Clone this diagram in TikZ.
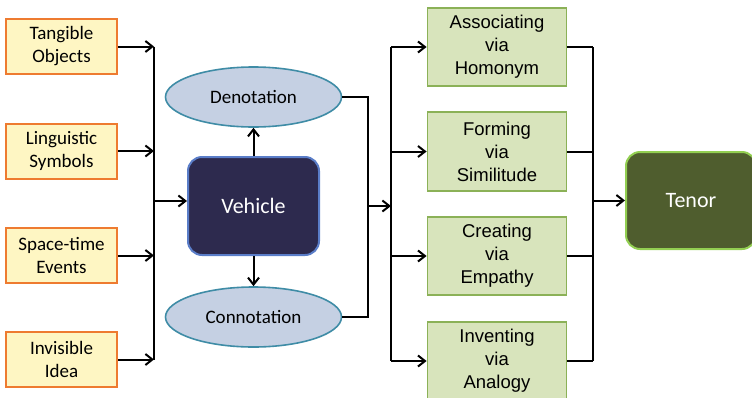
\documentclass[tikz,border=0pt]{standalone}
\usepackage{fontspec}
\newfontfamily\calibri{Carlito}
\newfontfamily\arial{Liberation Sans}
\usepackage[dvipsnames,svgnames]{xcolor}
\usepackage{tikz}
\usetikzlibrary{positioning}
\usetikzlibrary{arrows.meta}
\usetikzlibrary{shapes.geometric}
\definecolor{srcfill}{HTML}{FEF6C3}
\definecolor{srcline}{HTML}{EE7B30}
\definecolor{ovfill}{HTML}{C5D0E3}
\definecolor{ovline}{HTML}{3F8CA6}
\definecolor{vehfill}{HTML}{2D2A4E}
\definecolor{vehline}{HTML}{5A7DC8}
\definecolor{wayfill}{HTML}{D8E4BC}
\definecolor{wayline}{HTML}{8BB157}
\definecolor{tenfill}{HTML}{4F5D2E}
\definecolor{tenline}{HTML}{93CF52}

\begin{document}
\begin{tikzpicture}[x=1pt,y=-1pt,
    line width=2pt,
    arr/.style={-{Straight Barb[length=7pt,width=11pt,line width=2pt]}},
    srcbox/.style={draw=srcline,fill=srcfill,line width=2pt,minimum width=111pt,minimum height=55pt,inner sep=0pt,align=center,font=\calibri\fontsize{19}{23}\selectfont},
    sense/.style={ellipse,draw=ovline,fill=ovfill,line width=1.6pt,minimum width=176pt,minimum height=60pt,inner sep=0pt,font=\calibri\fontsize{19}{23}\selectfont},
    waybox/.style={draw=wayline,fill=wayfill,line width=1.8pt,minimum width=139pt,minimum height=78pt,inner sep=0pt,align=center,font=\arial\fontsize{18.5}{23}\selectfont},
    bigbox/.style={rounded corners=14pt,line width=2pt,minimum width=131pt,minimum height=98pt,text=white,font=\calibri\fontsize{22}{26}\selectfont}]
    \useasboundingbox (0,0) rectangle (752,397);
    % 左侧四个输入框
    \node[srcbox] (tang) at (61.5,46.5) {Tangible\\Objects};
    \node[srcbox] (ling) at (61.5,151) {Linguistic\\Symbols};
    \node[srcbox] (spti) at (61.5,255.5) {Space-time\\Events};
    \node[srcbox] (invi) at (61.5,359.5) {Invisible\\Idea};
    % 中间
    \node[bigbox,draw=vehline,fill=vehfill] (veh) at (253.5,206) {Vehicle};
    \node[sense] (deno) at (253.5,97) {Denotation};
    \node[sense] (conno) at (253.5,317) {Connotation};
    % 右侧四个方式框
    \node[waybox] (homo) at (497,47) {Associating\\via\\Homonym};
    \node[waybox,minimum height=79pt] (simi) at (497,151.5) {Forming\\via\\Similitude};
    \node[waybox] (empa) at (497,256) {Creating\\via\\Empathy};
    \node[waybox] (anal) at (497,361) {Inventing\\via\\Analogy};
    \node[bigbox,draw=tenline,fill=tenfill,minimum width=130pt,minimum height=97pt] (tenor) at (691,200.5) {Tenor};
    % 连线
    \coordinate (lbus) at (154,201);
    \coordinate (mid) at (368,206);
    \coordinate (rbus) at (391,206);
    \coordinate (tbus) at (593,200.5);
    \draw (tang.east -| lbus) -- (invi.east -| lbus);
    \foreach \s in {tang,ling,spti,invi}
        \draw[arr] (\s.east) -- (\s.east -| lbus);
    \draw[arr] (lbus) -- (lbus -| veh.west);
    \draw[arr] (veh.north) -- (deno.south);
    \draw[arr] (veh.south) -- (conno.north);
    \draw (deno.east) -| (mid) |- (conno.east);
    \draw[arr] (mid) -- (rbus);
    \draw (homo.west -| rbus) -- (anal.west -| rbus);
    \foreach \w in {homo,simi,empa,anal}
        \draw[arr] (\w.west -| rbus) -- (\w.west);
    \draw (homo.east -| tbus) -- (anal.east -| tbus);
    \foreach \w in {homo,simi,empa,anal}
        \draw (\w.east) -- (\w.east -| tbus);
    \draw[arr] (tbus) -- (tenor.west);
\end{tikzpicture}
\end{document}
